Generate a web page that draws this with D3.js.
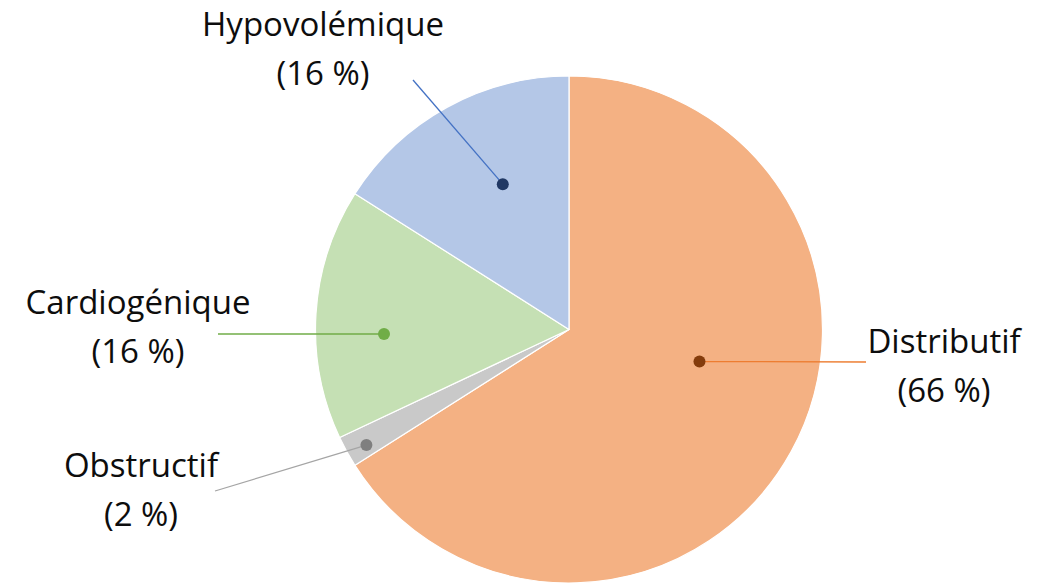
<!DOCTYPE html>
<html>
<head>
<meta charset="utf-8">
<script src="https://cdn.jsdelivr.net/npm/d3@7"></script>
<style>
  html, body { margin: 0; padding: 0; background: #ffffff; }
  svg { display: block; }
  text { font-family: "Open Sans", "Liberation Sans", sans-serif; fill: #0d0d0d; }
</style>
</head>
<body>
<svg id="chart" width="1051" height="585"></svg>
<script>
// Types de choc — répartition en pourcentage
const categories = ["Distributif", "Obstructif", "Cardiogénique", "Hypovolémique"];
const shares = [66, 2, 16, 16];
const percentLabels = ["(66 %)", "(2 %)", "(16 %)", "(16 %)"];

const sliceColors = ["#F4B183", "#C9C9C9", "#C5E0B4", "#B4C7E7"];
const dotColors = ["#843C0C", "#7F7F7F", "#70AD47", "#203864"];
const leaderColors = ["#ED7D31", "#A5A5A5", "#70AD47", "#4472C4"];

// Label layout: dot in polar coords (degrees clockwise from top, fraction of radius),
// leader end point and text anchor.
const labelLayout = [
  { angle: 103.8, rFrac: 0.53, lineEnd: [866, 362], text: [944, 353] },
  { angle: 240.3, rFrac: 0.92, lineEnd: [215, 491], text: [141, 477] },
  { angle: 268.6, rFrac: 0.73, lineEnd: [218, 334], text: [138, 314] },
  { angle: 335.5, rFrac: 0.63, lineEnd: [413, 80],  text: [323, 36] }
];

const width = 1051, height = 585;
const cx = 569, cy = 329.5, radius = 253.5;
const lineGap = 49;

const svg = d3.select("#chart");
const g = svg.append("g").attr("transform", `translate(${cx},${cy})`);

const data = categories.map((c, i) => ({ name: c, value: shares[i], pct: percentLabels[i], i }));

const pie = d3.pie().value(d => d.value).sort(null);
const arc = d3.arc().innerRadius(0).outerRadius(radius);
const arcs = pie(data);

g.selectAll("path.slice")
  .data(arcs)
  .join("path")
  .attr("class", "slice")
  .attr("d", arc)
  .attr("fill", d => sliceColors[d.data.i])
  .attr("stroke", "#ffffff")
  .attr("stroke-width", 1.2)
  .attr("stroke-linejoin", "round");

// Leader lines and dots
const polar = (deg, r) => {
  const a = deg * Math.PI / 180;
  return [cx + r * Math.sin(a), cy - r * Math.cos(a)];
};

const labels = svg.append("g");
arcs.forEach(d => {
  const L = labelLayout[d.data.i];
  const [dx, dy] = polar(L.angle, L.rFrac * radius);
  labels.append("line")
    .attr("x1", dx).attr("y1", dy)
    .attr("x2", L.lineEnd[0]).attr("y2", L.lineEnd[1])
    .attr("stroke", leaderColors[d.data.i])
    .attr("stroke-width", 1.3);
  labels.append("circle")
    .attr("cx", dx).attr("cy", dy).attr("r", 6)
    .attr("fill", dotColors[d.data.i]);
  const t = labels.append("text")
    .attr("text-anchor", "middle")
    .attr("font-size", 33);
  t.append("tspan").attr("x", L.text[0]).attr("y", L.text[1]).text(d.data.name);
  t.append("tspan").attr("x", L.text[0]).attr("y", L.text[1] + lineGap).text(d.data.pct);
});
</script>
</body>
</html>
